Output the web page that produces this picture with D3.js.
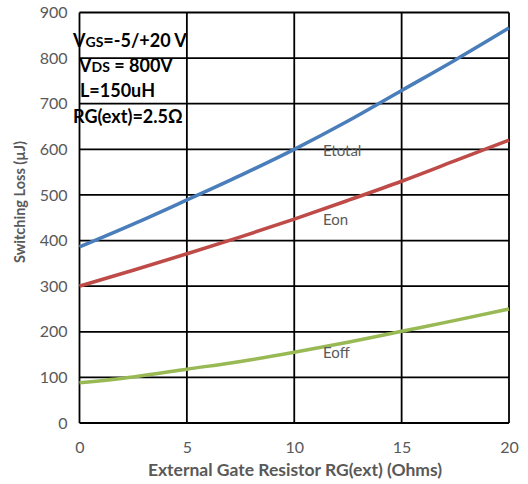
<!DOCTYPE html>
<html>
<head>
<meta charset="utf-8">
<script src="https://cdn.jsdelivr.net/npm/d3@7/dist/d3.min.js"></script>
<style>
  body { margin: 0; background: white; }
  text { font-family: Lato, "Noto Sans", sans-serif; }
</style>
</head>
<body>
<div id="chart"></div>
<script>
// values
var rg = [0, 2.5, 5, 7.5, 10, 12.5, 15, 17.5, 20];
var etotal = [386, 436, 489, 543, 600, 662, 729, 796, 866];
var eon = [300, 335, 371, 408, 447, 488, 530, 575, 620];
var eoff = [88, 101, 118, 135, 155, 177, 201, 225, 250];
var xTicks = [0, 5, 10, 15, 20];
var yTicks = [0, 100, 200, 300, 400, 500, 600, 700, 800, 900];

var series = [
    {name: "Etotal", values: etotal, color: "#4a7ebb", lx: 323, ly: 156},
    {name: "Eon", values: eon, color: "#be4b48", lx: 323, ly: 225},
    {name: "Eoff", values: eoff, color: "#98b954", lx: 323, ly: 358}
];

var width = 528, height = 484;
var svg = d3.select("#chart").append("svg")
    .attr("width", width)
    .attr("height", height);

var x = d3.scaleLinear().domain([0, 20]).range([79.5, 509]);
var y = d3.scaleLinear().domain([0, 900]).range([423, 12.5]);

// grid
svg.append("g").selectAll("line")
    .data(yTicks)
    .enter().append("line")
    .attr("x1", x(0)).attr("x2", x(20))
    .attr("y1", d => y(d)).attr("y2", d => y(d))
    .attr("stroke", "#000").attr("stroke-width", 1.8);

svg.append("g").selectAll("line")
    .data(xTicks)
    .enter().append("line")
    .attr("x1", d => x(d)).attr("x2", d => x(d))
    .attr("y1", y(0)).attr("y2", y(900))
    .attr("stroke", "#000").attr("stroke-width", 1.8);

// axes (labels only)
var xAxis = svg.append("g")
    .attr("transform", "translate(0," + y(0) + ")")
    .call(d3.axisBottom(x).tickValues(xTicks).tickSize(0).tickPadding(19));
xAxis.select(".domain").remove();
xAxis.selectAll("text").attr("font-size", 16).attr("fill", "#595959")
    .style("font-family", "Lato, sans-serif");

var yAxis = svg.append("g")
    .attr("transform", "translate(" + x(0) + ",0)")
    .call(d3.axisLeft(y).tickValues(yTicks).tickSize(0).tickPadding(12));
yAxis.select(".domain").remove();
yAxis.selectAll("text").attr("font-size", 16).attr("fill", "#595959")
    .style("font-family", "Lato, sans-serif");

// curves
var line = d3.line()
    .x((d, i) => x(rg[i]))
    .y(d => y(d))
    .curve(d3.curveMonotoneX);

svg.append("g").selectAll("path")
    .data(series)
    .enter().append("path")
    .attr("d", d => line(d.values))
    .attr("fill", "none")
    .attr("stroke", d => d.color)
    .attr("stroke-width", 3.5);

svg.append("g").selectAll("text")
    .data(series)
    .enter().append("text")
    .attr("x", d => d.lx)
    .attr("y", d => d.ly)
    .attr("font-size", 15)
    .attr("fill", "#595959")
    .text(d => d.name);

// axis titles
svg.append("text")
    .attr("x", 295).attr("y", 476)
    .attr("text-anchor", "middle")
    .attr("font-size", 17.5).attr("font-weight", "bold")
    .attr("fill", "#595959")
    .text("External Gate Resistor RG(ext) (Ohms)");

svg.append("text")
    .attr("transform", "translate(25,202) rotate(-90)")
    .attr("text-anchor", "middle")
    .attr("font-size", 14.5).attr("font-weight", "bold")
    .attr("fill", "#595959")
    .text("Switching Loss (µJ)");

// test conditions
var notes = svg.append("g").attr("font-weight", "bold").attr("font-size", 18).attr("fill", "#000");
var t1 = notes.append("text").attr("x", 73).attr("y", 47);
t1.append("tspan").text("V");
t1.append("tspan").attr("font-size", 14).text("GS");
t1.append("tspan").text("=-5/+20 V");
var t2 = notes.append("text").attr("x", 79).attr("y", 72);
t2.append("tspan").text("V");
t2.append("tspan").attr("font-size", 14).text("DS");
t2.append("tspan").text(" = 800V");
notes.append("text").attr("x", 80).attr("y", 97).text("L=150uH");
notes.append("text").attr("x", 73).attr("y", 123).text("RG(ext)=2.5Ω");
</script>
</body>
</html>
